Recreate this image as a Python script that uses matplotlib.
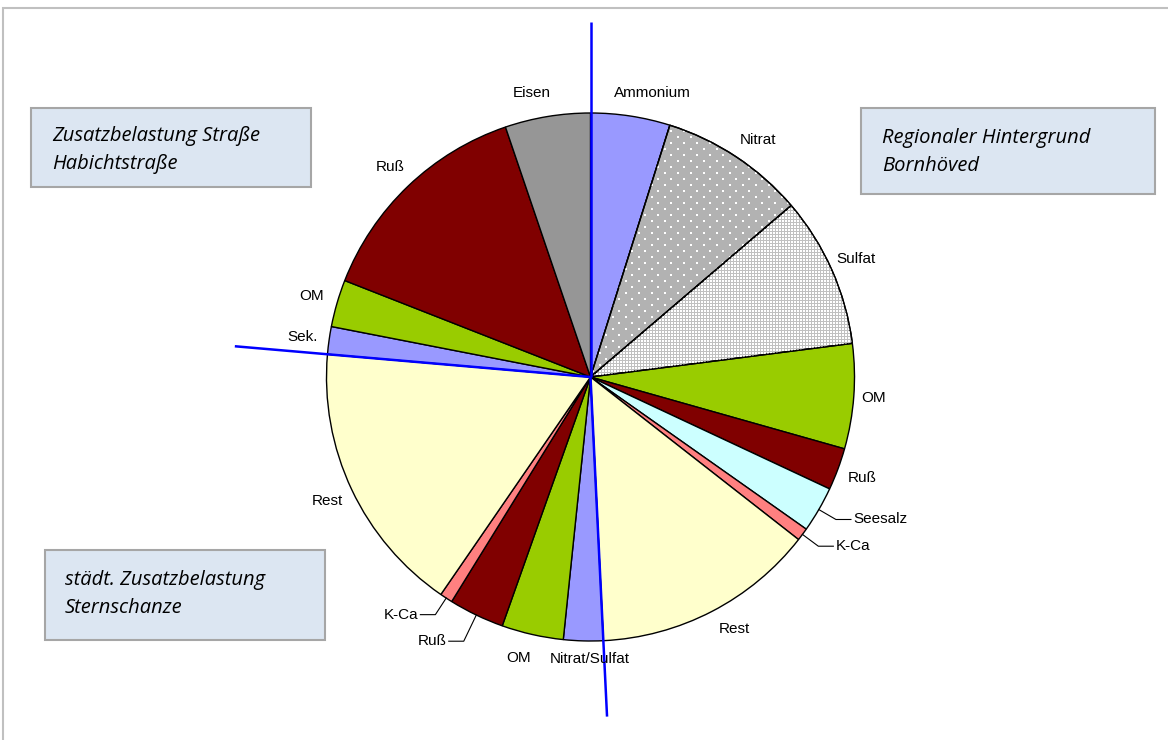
import numpy as np
import matplotlib.pyplot as plt
from matplotlib.patches import Rectangle, Wedge

# Anteile (%) der drei Quellgruppen, im Uhrzeigersinn ab 12 Uhr
regional_labels = ['Ammonium', 'Nitrat', 'Sulfat', 'OM', 'Ruß', 'Seesalz', 'K-Ca', 'Rest']
regional_values = [4.86, 8.89, 9.22, 6.42, 2.58, 2.81, 0.78, 13.67]

staedt_labels = ['Nitrat/Sulfat', 'OM', 'Ruß', 'K-Ca', 'Rest']
staedt_values = [2.42, 3.78, 3.39, 0.78, 16.78]

strasse_labels = ['Sek.', 'OM', 'Ruß', 'Eisen']
strasse_values = [1.69, 2.89, 13.83, 5.22]

group_titles = [['Regionaler Hintergrund', 'Bornhöved'],
                ['städt. Zusatzbelastung', 'Sternschanze'],
                ['Zusatzbelastung Straße', 'Habichtstraße']]

colors = {'Ammonium': '#9999FF', 'Nitrat': '#B2B2B2', 'Sulfat': '#C0C0C0',
          'OM': '#99CC00', 'Ruß': '#800000', 'Seesalz': '#CCFFFF',
          'K-Ca': '#FF8080', 'Rest': '#FFFFCC', 'Nitrat/Sulfat': '#9999FF',
          'Sek.': '#9999FF', 'Eisen': '#969696'}
# dot pattern: (x spacing, y spacing, staggered, dot size)
patterns = {'Nitrat': (13, 6, True, 0.9), 'Sulfat': (3, 3, False, 1.0)}

labels = regional_labels + staedt_labels + strasse_labels
values = regional_values + staedt_values + strasse_values

# pixel layout (y up)
W, H = 1168, 740
cx, cy, R = 590.5, H - 377, 264

fig = plt.figure(figsize=(W / 100, H / 100), dpi=100)
ax = fig.add_axes([0, 0, 1, 1])

wedges, _ = ax.pie(values, colors=[colors[l] for l in labels], startangle=90,
                   counterclock=False, center=(cx, cy), radius=R,
                   wedgeprops=dict(edgecolor='black', linewidth=1.0))

# dotted fills
for w, l in zip(wedges, labels):
    if l not in patterns:
        continue
    sx, sy, stag, size = patterns[l]
    pts = []
    for j, yy in enumerate(np.arange(cy - R, cy + R, sy)):
        off = sx / 2 if (stag and j % 2) else 0
        for xx in np.arange(cx - R + off, cx + R, sx):
            pts.append((xx, yy))
    pts = np.array(pts)
    sc = ax.scatter(pts[:, 0], pts[:, 1], s=size, marker='s', color='white',
                    linewidths=0)
    sc.set_clip_path(w)
    ax.add_patch(Wedge((cx, cy), R, w.theta1, w.theta2, facecolor='none',
                       edgecolor='black', linewidth=1.0))

# labels (angle nudges in degrees, clockwise)
leader = {5, 6, 10, 11}   # Seesalz, K-Ca, Ruß, K-Ca
label_r = {3: 1.075, 8: 1.07}
nudge = {0: 3.5, 1: 1.8, 7: -2.3, 8: -1.4, 9: 1.7, 16: -2.2}
for i, (w, l) in enumerate(zip(wedges, labels)):
    th = np.radians((w.theta1 + w.theta2) / 2 - nudge.get(i, 0))
    c, s = np.cos(th), np.sin(th)
    if i in leader:
        side = 1 if c > 0 else -1
        r_el = 1.11 if i == 10 else 1.075
        x0, y0 = cx + R * c, cy + R * s
        x1, y1 = cx + R * r_el * c, cy + R * r_el * s
        x2 = x1 + side * 15
        ax.plot([x0, x1, x2], [y0, y1, y1], color='black', lw=0.8)
        ax.text(x2 + side * 2, y1, l, ha='left' if side > 0 else 'right', va='center',
                fontsize=11, family='Liberation Sans')
    else:
        r = label_r.get(i, 1.1) * R
        ax.text(cx + r * c, cy + r * s, l, ha='center', va='center',
                fontsize=11, family='Liberation Sans')

# blue separators between the source groups
n1 = len(regional_values)
n2 = n1 + len(staedt_values)
for ang, length in [(wedges[0].theta2, 355), (wedges[n1 - 1].theta1, 340),
                    (wedges[n2 - 1].theta1, 357)]:
    a = np.radians(ang)
    ax.plot([cx, cx + length * np.cos(a)], [cy, cy + length * np.sin(a)],
            color='#0000FF', lw=1.8, solid_capstyle='butt')

# text boxes
boxes = [(861, H - 194, 294, 86, 882, H - 143),
         (45, H - 640, 280, 90, 65, H - 585),
         (31, H - 187, 280, 79, 52, H - 141)]
for (bx, by, bw, bh, tx, ty), lines in zip(boxes, group_titles):
    ax.add_patch(Rectangle((bx, by), bw, bh, facecolor='#DCE6F2',
                           edgecolor='#A6A6A6', linewidth=1.5))
    for k, line in enumerate(lines):
        ax.text(tx, ty - 28 * k, line, ha='left', va='baseline', fontsize=14.5,
                style='italic', family='Open Sans', color='black')

# outer frame
ax.add_patch(Rectangle((3, -20), W + 40, H - 8 + 20, facecolor='none',
                       edgecolor='#C0C0C0', linewidth=1.5))

ax.set_xlim(0, W)
ax.set_ylim(0, H)
ax.axis('off')

fig.savefig('out.png', dpi=100)
